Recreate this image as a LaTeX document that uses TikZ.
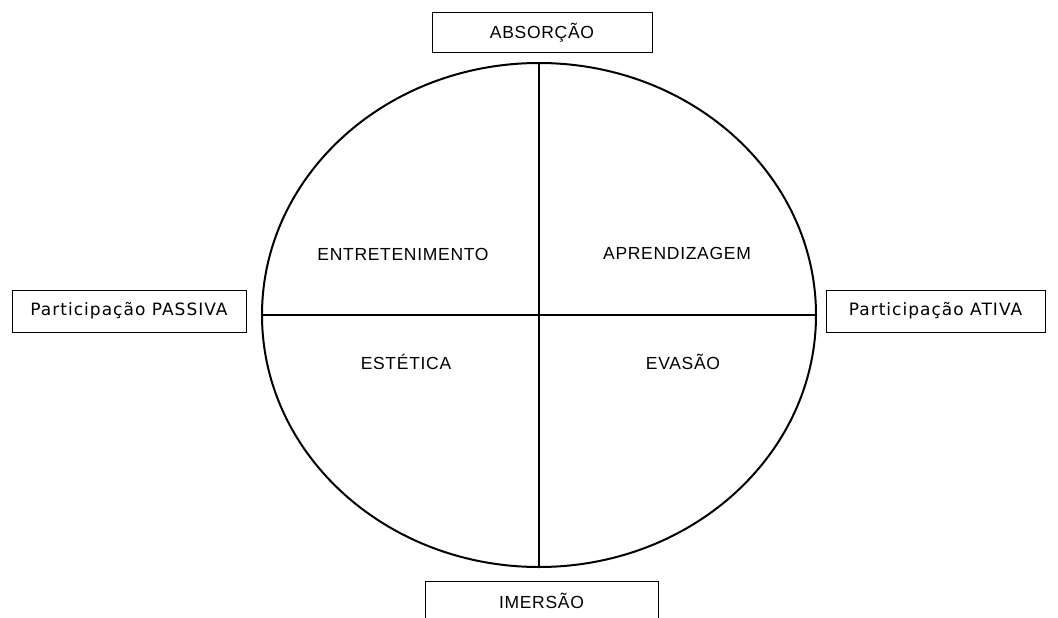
\documentclass[tikz,border=0pt]{standalone}
\usepackage{fontspec}
\setmainfont[LetterSpace=4]{Liberation Sans}
\newfontfamily\verdanalike[LetterSpace=6]{DejaVu Sans}
\usetikzlibrary{shapes.geometric}

\tikzset{
	quadlabel/.style={font=\fontsize{17.5}{20}\selectfont},
	axisbox/.style={draw=black, line width=1pt, rectangle, inner sep=0pt, font=\fontsize{17.5}{20}\selectfont},
	sidebox/.style={axisbox, font=\verdanalike\fontsize{17}{20}\selectfont},
}

\begin{document}
\begin{tikzpicture}[x=1pt, y=-1pt]
				\useasboundingbox (0,0) rectangle (1058,618);
				
				% circulo das quatro experiencias
				\node[draw=black, line width=2pt, ellipse, inner sep=0pt, minimum width=554pt, minimum height=504pt] (circ) at (539,315) {};
				\draw[line width=2pt] (circ.north) -- (circ.south);
				\draw[line width=2pt] (circ.west) -- (circ.east);
				
				\node[quadlabel] (entret) at (403,254) {ENTRETENIMENTO};
				\node[quadlabel] (aprend) at (677,253) {APRENDIZAGEM};
				\node[quadlabel] (estet) at (406,362) {ESTÉTICA};
				\node[quadlabel] (evas) at (683,362) {EVASÃO};
				
				% eixos
				\node[axisbox, minimum width=220pt, minimum height=40pt] (absorc) at (542,33) {ABSORÇÃO};
				\node[axisbox, minimum width=233pt, minimum height=40pt] (imers) at (541.5,601) {IMERSÃO};
				\node[sidebox, minimum width=234pt, minimum height=42pt] (passiva) at (129,311) {Participação PASSIVA};
				\node[sidebox, minimum width=219pt, minimum height=42pt] (ativa) at (935.5,311) {Participação ATIVA};
			\end{tikzpicture}
\end{document}
